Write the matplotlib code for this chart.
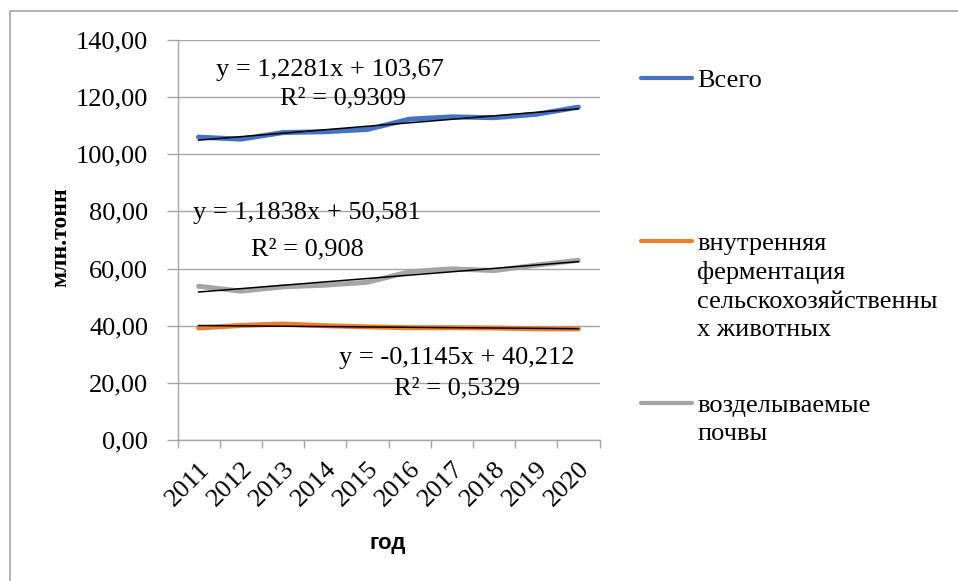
import numpy as np
import matplotlib
matplotlib.use("Agg")
import matplotlib.pyplot as plt
from matplotlib.lines import Line2D
from matplotlib.patches import Rectangle

years = ["2011", "2012", "2013", "2014", "2015", "2016", "2017", "2018", "2019", "2020"]
total = [106.0, 105.3, 107.6, 107.9, 108.7, 112.3, 113.1, 112.8, 114.0, 116.5]
enteric = [39.2, 40.1, 40.6, 40.0, 39.6, 39.3, 39.3, 39.2, 38.9, 38.9]
soils = [53.8, 52.1, 53.6, 54.2, 55.2, 58.9, 59.9, 59.3, 61.2, 62.9]

series_names = ["Всего",
                "внутренняя\nферментация\nсельскохозяйственны\nх животных",
                "возделываемые\nпочвы"]
colors = ["#4472C4", "#ED7D31", "#A5A5A5"]
eq_texts = [("y = 1,2281x + 103,67", "R² = 0,9309"),
            ("y = -0,1145x + 40,212", "R² = 0,5329"),
            ("y = 1,1838x + 50,581", "R² = 0,908")]
yticks = [0, 20, 40, 60, 80, 100, 120, 140]

W, H = 958, 581
fig = plt.figure(figsize=(W / 100, H / 100), dpi=100)
serif = "Liberation Serif"
FS = 19

def fx(px):
    return px / W

def fy(py):
    return 1 - py / H

# outer frame
fig.add_artist(Rectangle((fx(9.5), fy(640)), 2.0, fy(11) - fy(640), transform=fig.transFigure,
                         fill=False, edgecolor="#a6a6a6", lw=1.2))

ax = fig.add_axes([fx(177.5), fy(440), fx(599.5) - fx(177.5), fy(40) - fy(440)])
x = np.arange(len(years))

for vals, c in zip([total, enteric, soils], colors):
    ax.plot(x, vals, color=c, lw=3.6, solid_capstyle="round", zorder=3)
for vals in [total, enteric, soils]:
    k, b = np.polyfit(x + 1, vals, 1)
    ax.plot(x, k * (x + 1) + b, color="black", lw=1.1, zorder=4)

ax.set_xlim(-0.5, len(years) - 0.5)
ax.set_ylim(0, 140)
ax.set_yticks(yticks)
ax.set_yticklabels([f"{v:.2f}".replace(".", ",") for v in yticks], fontfamily=serif, fontsize=FS)
ax.grid(axis="y", color="#a6a6a6", lw=1.0)
ax.set_axisbelow(True)

ax.set_xticks(x)
ax.set_xticklabels(years, rotation=45, ha="right", va="top", fontfamily=serif, fontsize=FS,
                   rotation_mode="anchor")
ax.set_xticks(np.arange(-0.5, len(years)), minor=True)
ax.tick_params(axis="x", which="major", length=0, pad=13)
ax.tick_params(axis="x", which="minor", length=6, color="#a6a6a6", width=1.0)
ax.tick_params(axis="y", length=8, color="#a6a6a6", width=1.0, pad=13)
for s in ["top", "right"]:
    ax.spines[s].set_visible(False)
for s in ["left", "bottom"]:
    ax.spines[s].set_color("#a6a6a6")
    ax.spines[s].set_linewidth(1.0)

# trend equations
eq_pos = [((330, 70), (343, 98)), ((457, 358), (457, 388)), ((307, 213), (307, 249))]
for (l1, l2), (p1, p2) in zip(eq_texts, eq_pos):
    fig.text(fx(p1[0]), fy(p1[1]), l1, ha="center", va="center", fontfamily=serif, fontsize=FS)
    fig.text(fx(p2[0]), fy(p2[1]), l2, ha="center", va="center", fontfamily=serif, fontsize=FS)

# axis titles
fig.text(fx(61), fy(237), "млн.тонн", rotation=90, ha="center", va="center",
         fontfamily=serif, fontweight="bold", fontsize=17)
fig.text(fx(388), fy(543), "год", ha="center", va="center",
         fontfamily="Liberation Sans", fontweight="bold", fontsize=16)

# legend
leg_y = [80, 243, 405]
for name, c, ly in zip(series_names, colors, leg_y):
    fig.add_artist(Line2D([fx(641), fx(692)], [fy(ly - 2), fy(ly - 2)], color=c, lw=3.0,
                          solid_capstyle="round", transform=fig.transFigure))
    fig.text(fx(697), fy(ly - 10), name, ha="left", va="top", fontfamily=serif, fontsize=FS,
             linespacing=1.36)

fig.savefig("out.png", dpi=100)
